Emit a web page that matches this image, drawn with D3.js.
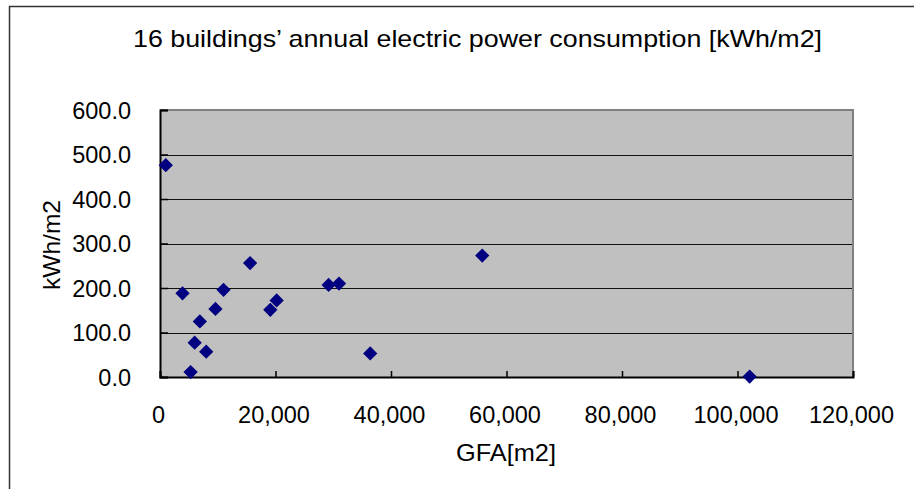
<!DOCTYPE html>
<html>
<head>
<meta charset="utf-8">
<script src="https://cdn.jsdelivr.net/npm/d3@7"></script>
<style>
  body { margin: 0; background: #fff; }
  svg { display: block; font-family: "Liberation Sans", Arial, sans-serif; }
</style>
</head>
<body>
<div id="chart"></div>
<script>
// GFA [m2] and annual electric use [kWh/m2]
const gfa  = [1000, 3900, 6900, 6000, 8000, 5300, 9600, 11000, 15600, 19100, 20200, 29200, 31000, 36400, 55800, 102100];
const kwh  = [476, 188, 125, 77, 57, 11, 153, 196, 256, 151, 172, 207, 210, 53, 273, 1];
const xTicks = [0, 20000, 40000, 60000, 80000, 100000, 120000];
const yTicks = [0, 100, 200, 300, 400, 500, 600];
const title = "16 buildings\u2019 annual electric power consumption [kWh/m2]";

let width = 914, height = 489,
    margin = ({ top: 110, right: 61, bottom: 112, left: 160 });

const data = gfa.map((g, i) => ({ gfa: g, kwh: kwh[i] }));

const svg = d3.select("#chart")
    .append("svg")
    .attr("width", width)
    .attr("height", height);

// outer chart border (right/bottom run off the page)
svg.append("rect")
    .attr("x", 9.5).attr("y", 6.5)
    .attr("width", 1000).attr("height", 700)
    .attr("fill", "#fff")
    .attr("stroke", "#333")
    .attr("stroke-width", 1.5);

let x = d3.scaleLinear()
    .domain([0, 120000])
    .range([margin.left, width - margin.right]);

let y = d3.scaleLinear()
    .domain([0, 600])
    .range([height - margin.bottom, margin.top]);

// plot area
svg.append("rect")
    .attr("x", x(0)).attr("y", y(600))
    .attr("width", x(120000) - x(0))
    .attr("height", y(0) - y(600))
    .attr("fill", "#c0c0c0");

// gridlines
svg.append("g")
    .selectAll("line")
    .data(yTicks.filter(d => d > 0 && d < 600))
    .join("line")
    .attr("x1", x(0)).attr("x2", x(120000))
    .attr("y1", d => Math.round(y(d)) + 0.5)
    .attr("y2", d => Math.round(y(d)) + 0.5)
    .attr("stroke", "#111");

// top + right border of plot area
svg.append("path")
    .attr("d", `M${x(0)},${y(600)}H${x(120000)}V${y(0)}`)
    .attr("fill", "none")
    .attr("stroke", "#808080")
    .attr("stroke-width", 2);

// axes, ticks pointing inward
const xAxis = svg.append("g")
    .attr("transform", `translate(0,${y(0)})`)
    .call(d3.axisBottom(x).tickValues(xTicks).tickSize(-6).tickPadding(29)
        .tickFormat(d3.format(",")));

const yAxis = svg.append("g")
    .attr("transform", `translate(${x(0)},0)`)
    .call(d3.axisLeft(y).tickValues(yTicks).tickSize(-8).tickPadding(29)
        .tickFormat(d3.format(".1f")));

[xAxis, yAxis].forEach(a => {
  a.select(".domain").attr("stroke", "#000").attr("stroke-width", 2);
  a.selectAll(".tick line").attr("stroke", "#000").attr("stroke-width", 1.5);
  a.selectAll("text")
    .attr("fill", "#000")
    .style("font-size", "23.5px")
    .style("font-family", "'Liberation Sans', Arial, sans-serif");
});
yAxis.selectAll("text").attr("dy", "0.36em");
xAxis.selectAll("text").attr("dx", "-2px");

// diamond markers
const diamond = d3.symbol().type(d3.symbolDiamond2).size(130);
svg.append("g")
    .selectAll("path")
    .data(data)
    .join("path")
    .attr("transform", d => `translate(${x(d.gfa)},${y(d.kwh)})`)
    .attr("d", diamond)
    .attr("fill", "#000080");

// title + axis labels
svg.append("text")
    .attr("x", 477.5).attr("y", 47)
    .attr("text-anchor", "middle")
    .attr("textLength", 689)
    .attr("lengthAdjust", "spacingAndGlyphs")
    .style("font-size", "24px")
    .text(title);

svg.append("text")
    .attr("x", 506).attr("y", 461)
    .attr("text-anchor", "middle")
    .attr("textLength", 100)
    .attr("lengthAdjust", "spacingAndGlyphs")
    .style("font-size", "24px")
    .text("GFA[m2]");

svg.append("text")
    .attr("transform", "translate(60,245) rotate(-90)")
    .attr("text-anchor", "middle")
    .attr("textLength", 90)
    .attr("lengthAdjust", "spacingAndGlyphs")
    .style("font-size", "24px")
    .text("kWh/m2");
</script>
</body>
</html>
